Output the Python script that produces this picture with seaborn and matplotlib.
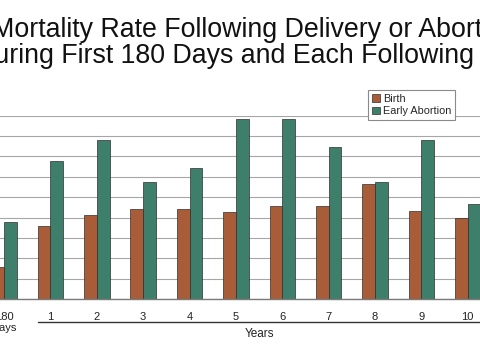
import numpy as np
import pandas as pd
import matplotlib
matplotlib.use("Agg")
import matplotlib.pyplot as plt
import seaborn as sns

# data (units of the hidden y axis)
periods = ["180\nDays", "1", "2", "3", "4", "5", "6", "7", "8", "9", "10"]
birth = [1.56, 3.58, 4.12, 4.42, 4.42, 4.26, 4.58, 4.58, 5.65, 4.33, 3.96]
early_abortion = [3.79, 6.77, 7.79, 5.74, 6.42, 8.82, 8.82, 7.46, 5.74, 7.79, 4.68]
outcomes = ["Birth", "Early Abortion"]
title_lines = ["Mortality Rate Following Delivery or Abortion",
               "During First 180 Days and Each Following Year"]

df = pd.DataFrame({
    "period": periods * 2,
    "rate": birth + early_abortion,
    "outcome": [outcomes[0]] * len(periods) + [outcomes[1]] * len(periods),
})

sns.set_style("white")
plt.rcParams["font.family"] = ["Liberation Sans", "DejaVu Sans"]

fig = plt.figure(figsize=(4.8, 3.6), dpi=100)
W, H = 480, 360
# axes deliberately runs past the left/right edges, like the cropped slide
ax = fig.add_axes([-19.1 / W, 61 / H, 510 / W, (299 - 115.7) / H])

sns.barplot(data=df, x="period", y="rate", hue="outcome",
            palette=["#a85c38", "#3e7f6b"], saturation=1, width=0.55,
            edgecolor="#2e2e2e", linewidth=0.5, ax=ax)

ax.set_xlim(-0.5, len(periods) - 0.5)
ax.set_ylim(0, 9)
ax.set_yticks(np.arange(0, 10, 1))
ax.set_yticklabels([])
ax.tick_params(axis="y", length=0)
ax.yaxis.grid(True, color="#a6a6a6", linewidth=0.8)
ax.set_axisbelow(True)

ax.set_xlabel("")
ax.set_ylabel("")
ax.tick_params(axis="x", which="major", length=0, pad=9, labelsize=8,
               labelcolor="#222222")
ax.set_xticks(np.arange(-0.5, len(periods), 1), minor=True)
ax.tick_params(axis="x", which="minor", length=3, color="#808080",
               direction="out")

for side in ["top", "left", "right"]:
    ax.spines[side].set_visible(False)
ax.spines["bottom"].set_color("#7a7a7a")
ax.spines["bottom"].set_linewidth(1)

# "Years" bracket under groups 1-10
tr = ax.get_xaxis_transform()
ax.plot([1 - 0.275, 10 + 0.275], [-0.127, -0.127], transform=tr,
        color="#333333", linewidth=1, clip_on=False)
ax.text(5.5, -0.19, "Years", transform=tr, ha="center", va="center",
        fontsize=8.5, color="#222222")

ax.legend(loc="upper left", bbox_to_anchor=(368.3 / W, 1 - 90 / H),
          bbox_transform=fig.transFigure, fontsize=7.8, frameon=True,
          fancybox=False, edgecolor="#8a8a8a", framealpha=1,
          handlelength=0.7, handleheight=0.7, handletextpad=0.3,
          borderpad=0.35, labelspacing=0.25, borderaxespad=0)
ax.get_legend().get_frame().set_linewidth(0.8)

fig.text(255 / W, 1 - 36.7 / H, title_lines[0], ha="center",
         va="baseline", fontsize=19.3, color="#111111")
fig.text(255 / W, 1 - 63.3 / H, title_lines[1], ha="center",
         va="baseline", fontsize=19.3, color="#111111")

fig.savefig("out.png", dpi=100)
